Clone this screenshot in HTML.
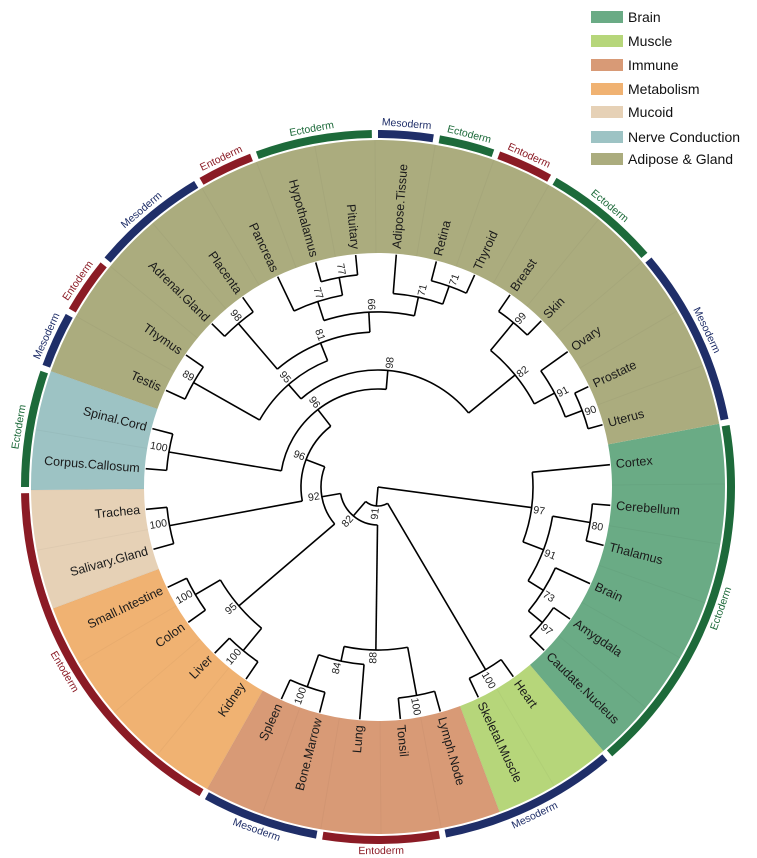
<!DOCTYPE html>
<html><head><meta charset="utf-8">
<style>
html,body{margin:0;padding:0;background:#fff;}
svg{display:block;font-family:"Liberation Sans",Arial,sans-serif;}
</style></head>
<body>
<svg id="s" width="757" height="858" viewBox="0 0 757 858" xmlns="http://www.w3.org/2000/svg">
<g id="sec"></g><g id="ring"></g><g id="tree" fill="none" stroke="#000" stroke-width="1.6"></g><g id="txt"></g>
<g font-size="14" fill="#111">
<rect x="591" y="11" width="32" height="12" fill="#6aab85"/><text x="628" y="22">Brain</text>
<rect x="591" y="35" width="32" height="12" fill="#b6d67a"/><text x="628" y="46">Muscle</text>
<rect x="591" y="59" width="32" height="12" fill="#d89a76"/><text x="628" y="70">Immune</text>
<rect x="591" y="83" width="32" height="12" fill="#f0b272"/><text x="628" y="94">Metabolism</text>
<rect x="591" y="106" width="32" height="12" fill="#e6d1b6"/><text x="628" y="117">Mucoid</text>
<rect x="591" y="131" width="32" height="12" fill="#9dc3c4"/><text x="628" y="142">Nerve Conduction</text>
<rect x="591" y="153" width="32" height="12" fill="#abac7e"/><text x="628" y="164">Adipose &amp; Gland</text>
</g>
</svg>
<script>
var CX=378,CY=487,NS="http://www.w3.org/2000/svg";
function P(r,a){a=a*Math.PI/180;return [CX+r*Math.cos(a),CY+r*Math.sin(a)];}
function el(p,t,at,tx){var e=document.createElementNS(NS,t);for(var k in at)e.setAttribute(k,at[k]);if(tx!==undefined)e.textContent=tx;document.getElementById(p).appendChild(e);return e;}
function wedge(r1,r2,a1,a2){var p1=P(r2,a1),p2=P(r2,a2),p3=P(r1,a2),p4=P(r1,a1),l=(a2-a1)>180?1:0;
return "M"+p1+" A"+r2+","+r2+" 0 "+l+" 1 "+p2+" L"+p3+" A"+r1+","+r1+" 0 "+l+" 0 "+p4+"Z";}
[[349.5,409.5,"#6aab85"],[409.5,429.5,"#b6d67a"],[429.5,479.5,"#d89a76"],[479.5,519.5,"#f0b272"],[519.5,539.5,"#e6d1b6"],[539.5,559.5,"#9dc3c4"],[559.5,709.5,"#abac7e"]].forEach(function(s){
el("sec","path",{d:wedge(234,347,s[0],s[1]),fill:s[2]});});
for(var a=359.5;a<709;a+=10){var p=P(234,a),q=P(347,a);el("sec","line",{x1:p[0],y1:p[1],x2:q[0],y2:q[1],stroke:"#000","stroke-opacity":"0.03","stroke-width":"1"});}
var EC="#1d6a3a",ME="#1f2e68",EN="#8b1b25";
[[349.5,409.5,"Ectoderm",EC],[409.5,439.5,"Mesoderm",ME],[439.5,459.5,"Entoderm",EN],[459.5,479.5,"Mesoderm",ME],[479.5,539.5,"Entoderm",EN],[539.5,559.5,"Ectoderm",EC],[559.5,569.5,"Mesoderm",ME],[569.5,579.5,"Entoderm",EN],[579.5,599.5,"Mesoderm",ME],[599.5,609.5,"Entoderm",EN],[609.5,629.5,"Ectoderm",EC],[629.5,639.5,"Mesoderm",ME],[639.5,649.5,"Ectoderm",EC],[649.5,659.5,"Entoderm",EN],[659.5,679.5,"Ectoderm",EC],[679.5,709.5,"Mesoderm",ME]].forEach(function(s){
el("ring","path",{d:wedge(349,357,s[0]+0.5,s[1]-0.5),fill:s[3]});
var m=(s[0]+s[1])/2,p=P(364,m),n=((m%360)+360)%360,rot=(n>0&&n<180)?n-90:n+90;
el("ring","text",{x:p[0],y:p[1],"text-anchor":"middle","dominant-baseline":"central","font-size":"10.5",fill:s[3],transform:"rotate("+rot+" "+p[0]+" "+p[1]+")"},s[2]);});
var leaves=["Cortex","Cerebellum","Thalamus","Brain","Amygdala","Caudate.Nucleus","Heart","Skeletal.Muscle","Lymph.Node","Tonsil","Lung","Bone.Marrow","Spleen","Kidney","Liver","Colon","Small.Intestine","Salivary.Gland","Trachea","Corpus.Callosum","Spinal.Cord","Testis","Thymus","Adrenal.Gland","Placenta","Pancreas","Hypothalamus","Pituitary","Adipose.Tissue","Retina","Thyroid","Breast","Skin","Ovary","Prostate","Uterus"];
var LA={};leaves.forEach(function(n,i){LA[n]=354.5+10*i;});
function lab(r,a,t,fs,g){var n=((a%360)+360)%360,flip=(n>90&&n<270),p=P(r,a);
el("txt","text",{x:p[0],y:p[1],"text-anchor":flip?"end":"start","dominant-baseline":"central","font-size":fs,fill:g||"#1a1a1a",transform:"rotate("+(flip?n-180:n)+" "+p[0]+" "+p[1]+")"},t);}
leaves.forEach(function(n){lab(239,LA[n],n,"12.5");});
function N(r,l,c){return {r:r,l:l,c:c};}
var T=N(0,"",[
 N(155,"97",["Cortex",N(177,"91",[N(215,"80",["Cerebellum","Thalamus"]),N(195,"73",["Brain",N(213,"97",["Amygdala","Caudate.Nucleus"])])])]),
 N(19,"91",[N(212,"100",["Heart","Skeletal.Muscle"]),
  N(38,"82",[N(163,"88",[N(212,"100",["Lymph.Node","Tonsil"]),N(178,"84",["Lung",N(212,"100",["Bone.Marrow","Spleen"])])]),
   N(57,"92",[N(183,"95",[N(212,"100",["Kidney","Liver"]),N(212,"100",["Colon","Small.Intestine"])]),
    N(77,"96",[N(212,"100",["Salivary.Gland","Trachea"]),
     N(98,"96",[N(212,"100",["Corpus.Callosum","Spinal.Cord"]),
      N(117,"98",[N(136,"95",[N(212,"89",["Testis","Thymus"]),N(155,"81",[N(215,"98",["Adrenal.Gland","Placenta"]),N(175,"66",[N(195,"77",["Pancreas",N(213,"77",["Hypothalamus","Pituitary"])]),N(194,"71",["Adipose.Tissue",N(213,"71",["Retina","Thyroid"])])])])]),
       N(177,"82",[N(213,"99",["Breast","Skin"]),N(200,"91",["Ovary",N(218,"90",["Prostate","Uterus"])])])])])])])])])]);
function ang(n){if(typeof n=="string")return LA[n];if(n.a===undefined){var a=n.c.map(ang);n.a=(a[0]+a[a.length-1])/2;}return n.a;}
function rad(n){return typeof n=="string"?233:n.r;}
function draw(n){var as=n.c.map(ang);
 if(n.r>0){var p1=P(n.r,as[0]),p2=P(n.r,as[as.length-1]);el("tree","path",{d:"M"+p1+" A"+n.r+","+n.r+" 0 0 1 "+p2});}
 n.c.forEach(function(c,i){var a=as[i],p=P(n.r,a),q=P(rad(c),a);el("tree","line",{x1:p[0],y1:p[1],x2:q[0],y2:q[1]});if(typeof c!="string")draw(c);});
 if(n.l)lab(n.r+2,ang(n)+0.8,n.l,"10.5","#222");}
ang(T);draw(T);
</script>
</body></html>
